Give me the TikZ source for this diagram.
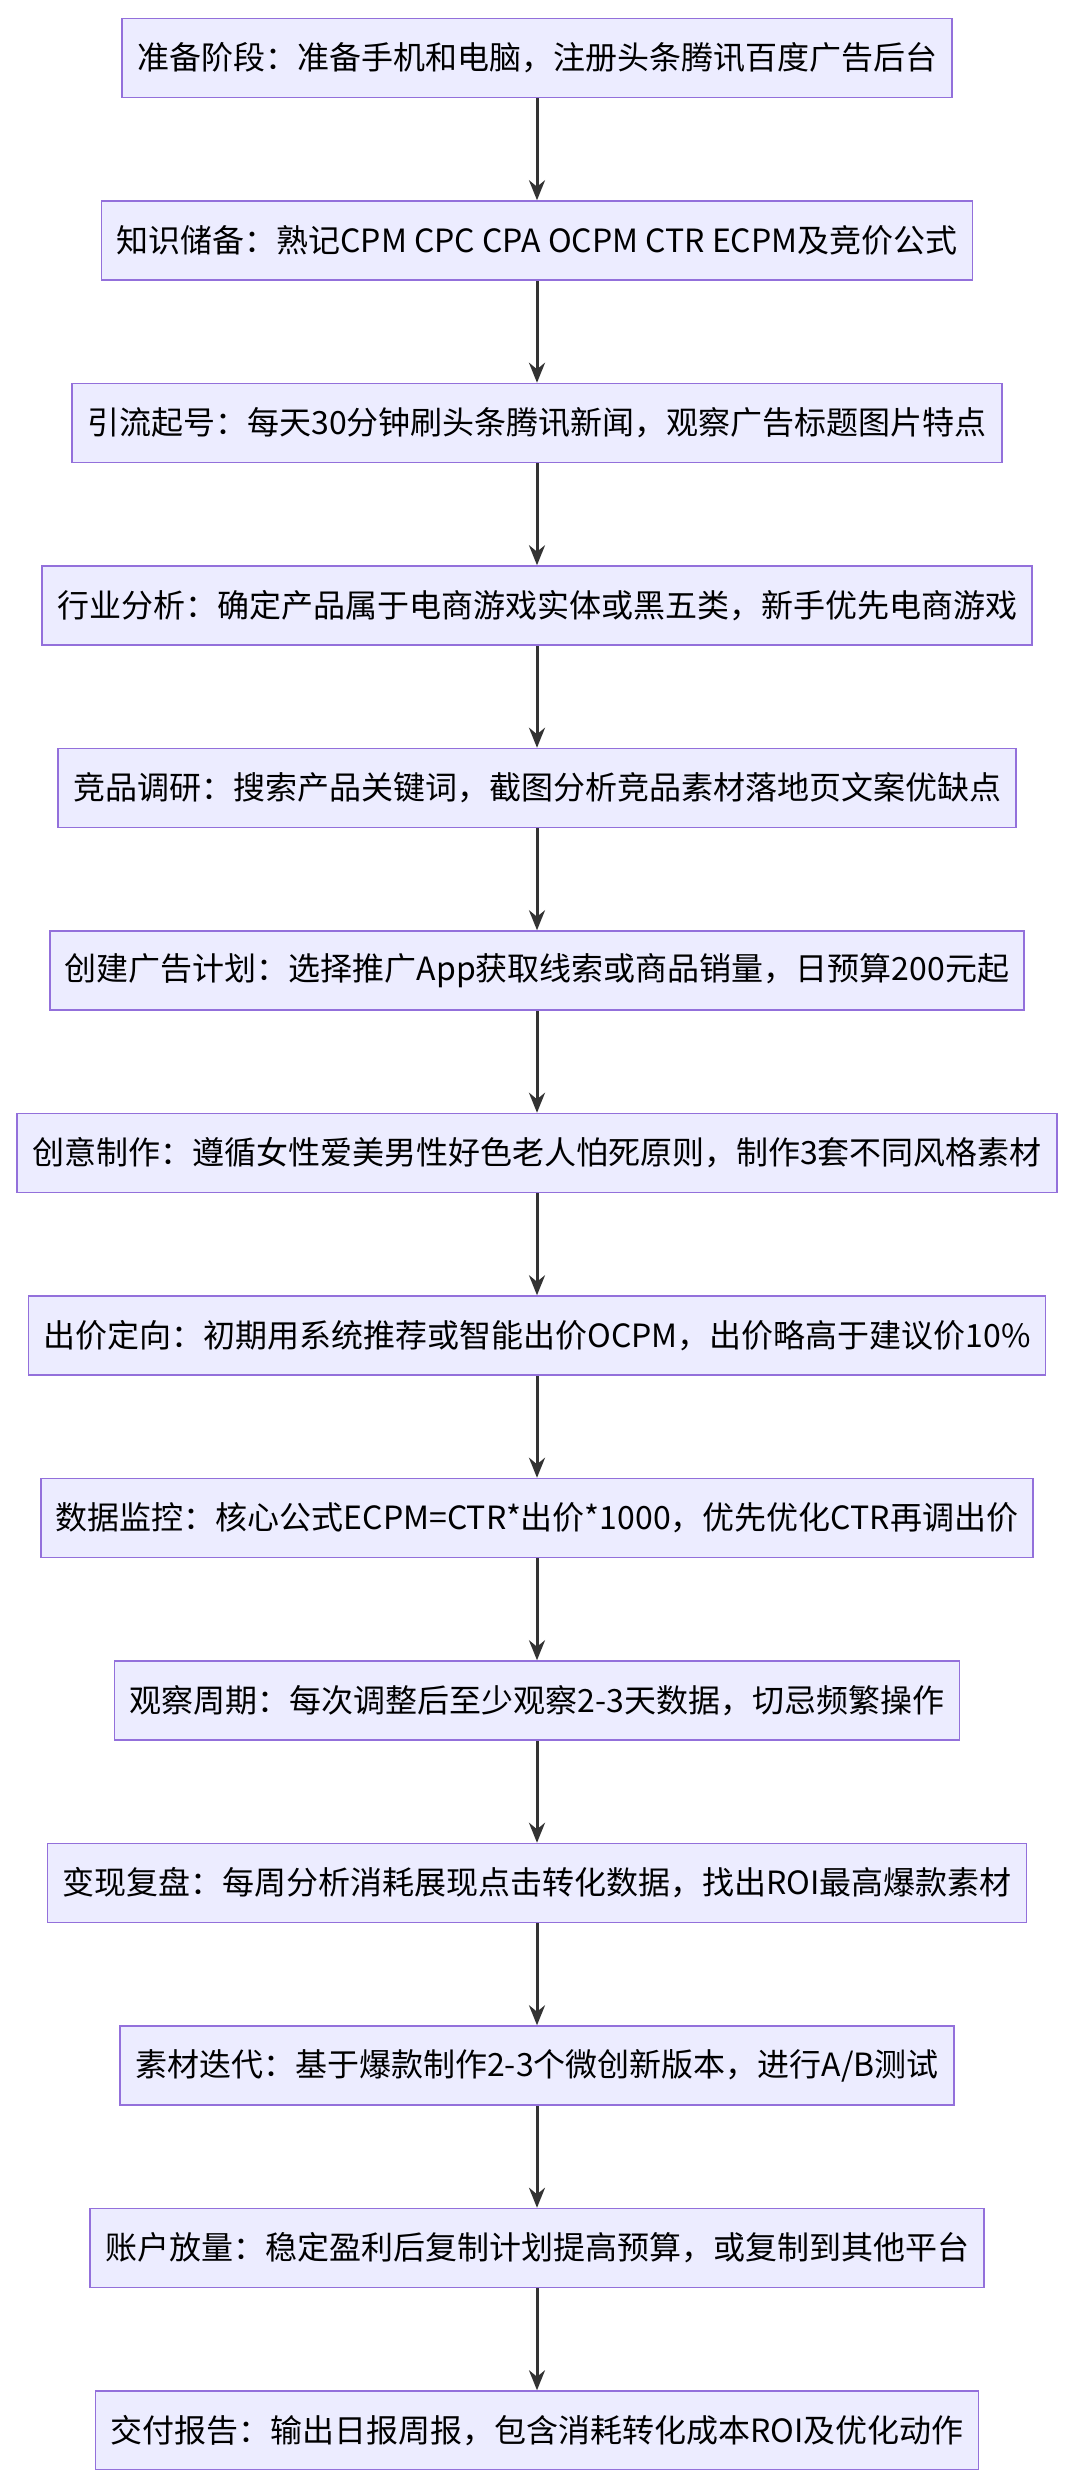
\documentclass[tikz,border=0pt]{standalone}
\usepackage{fontspec}
\setmainfont{Noto Sans CJK SC}
\usetikzlibrary{positioning,arrows.meta}
\definecolor{boxfill}{HTML}{ECECFF}
\definecolor{boxline}{HTML}{9370DB}
\definecolor{linkcol}{HTML}{333333}
\begin{document}
\begin{tikzpicture}[x=1pt, y=1pt,
  stepbox/.style={draw=boxline, fill=boxfill, line width=1.5pt, minimum height=79pt, inner xsep=15pt, font=\fontsize{32}{38}\selectfont},
  link/.style={draw=linkcol, line width=3pt, -{Stealth[length=20pt,width=16pt]}},
  node distance=102pt]
\useasboundingbox (0,0) rectangle (1072,-2470);
\node[stepbox] (s1) at (537,-58) {准备阶段：准备手机和电脑，注册头条腾讯百度广告后台};
\node[stepbox, below=of s1] (s2) {知识储备：熟记CPM CPC CPA OCPM CTR ECPM及竞价公式};
\node[stepbox, below=of s2] (s3) {引流起号：每天30分钟刷头条腾讯新闻，观察广告标题图片特点};
\node[stepbox, below=of s3] (s4) {行业分析：确定产品属于电商游戏实体或黑五类，新手优先电商游戏};
\node[stepbox, below=of s4] (s5) {竞品调研：搜索产品关键词，截图分析竞品素材落地页文案优缺点};
\node[stepbox, below=of s5] (s6) {创建广告计划：选择推广App获取线索或商品销量，日预算200元起};
\node[stepbox, below=of s6] (s7) {创意制作：遵循女性爱美男性好色老人怕死原则，制作3套不同风格素材};
\node[stepbox, below=of s7] (s8) {出价定向：初期用系统推荐或智能出价OCPM，出价略高于建议价10\%};
\node[stepbox, below=of s8] (s9) {数据监控：核心公式ECPM=CTR*出价*1000，优先优化CTR再调出价};
\node[stepbox, below=of s9] (s10) {观察周期：每次调整后至少观察2-3天数据，切忌频繁操作};
\node[stepbox, below=of s10] (s11) {变现复盘：每周分析消耗展现点击转化数据，找出ROI最高爆款素材};
\node[stepbox, below=of s11] (s12) {素材迭代：基于爆款制作2-3个微创新版本，进行A/B测试};
\node[stepbox, below=of s12] (s13) {账户放量：稳定盈利后复制计划提高预算，或复制到其他平台};
\node[stepbox, below=of s13] (s14) {交付报告：输出日报周报，包含消耗转化成本ROI及优化动作};
\foreach \i [evaluate=\i as \j using int(\i+1)] in {1,...,13} {
  \draw[link] (s\i) -- (s\j);
}
\end{tikzpicture}
\end{document}
